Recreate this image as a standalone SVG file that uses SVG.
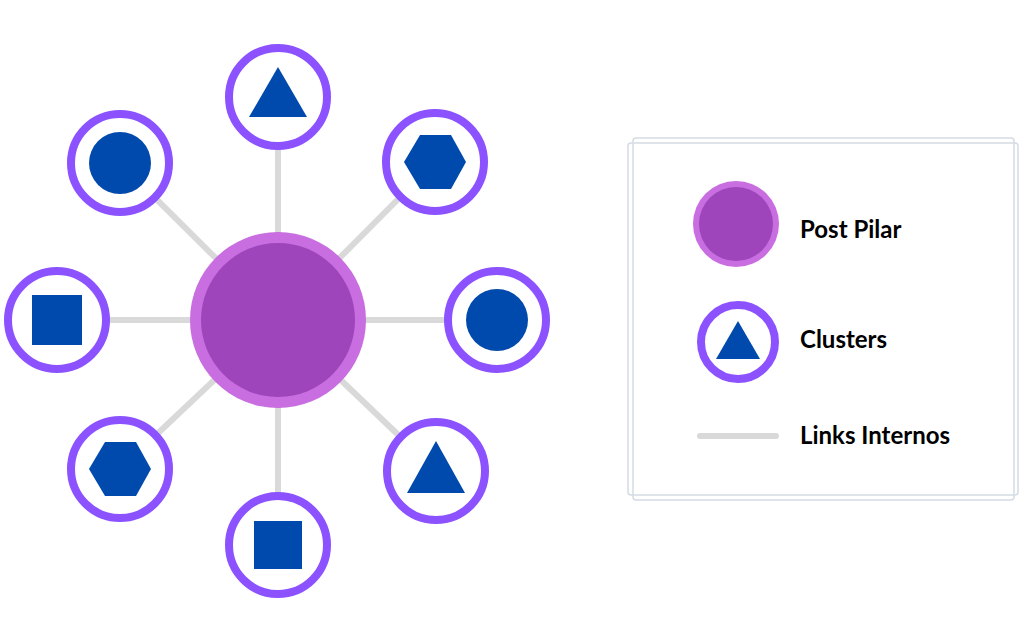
<svg xmlns="http://www.w3.org/2000/svg" width="1024" height="640" viewBox="0 0 1024 640">
<style>
.link{stroke:#d9d9d9;stroke-width:6;stroke-linecap:round}
.ring{fill:#fff;stroke:#8c52ff;stroke-width:8}
.shape{fill:#004aad}
.pil-o{fill:#c86ee0}
.pil-i{fill:#9f45bb}
.lbl{font-family:Lato,"Open Sans",sans-serif;font-weight:bold;font-size:24px;fill:#000}
.box{fill:none;stroke:#d5dbe3;stroke-width:1.5}
</style>
<rect width="1024" height="640" fill="#fff"/>
<g id="connectors">
<line class="link" x1="278" y1="320" x2="278" y2="97"/>
<line class="link" x1="278" y1="320" x2="120" y2="163"/>
<line class="link" x1="278" y1="320" x2="435" y2="162"/>
<line class="link" x1="278" y1="320" x2="57" y2="320"/>
<line class="link" x1="278" y1="320" x2="497" y2="320"/>
<line class="link" x1="278" y1="320" x2="120" y2="469"/>
<line class="link" x1="278" y1="320" x2="436" y2="471"/>
<line class="link" x1="278" y1="320" x2="278" y2="545"/>
</g>
<g id="pilar"><circle class="pil-o" cx="278" cy="320" r="88"/><circle class="pil-i" cx="278" cy="320" r="77"/></g>
<g id="n-top"><circle class="ring" cx="278" cy="97" r="49"/><polygon class="shape" points="278,67 307,117 249,117"/></g>
<g id="n-tl"><circle class="ring" cx="120" cy="163" r="49"/><circle class="shape" cx="120" cy="163" r="31"/></g>
<g id="n-tr"><circle class="ring" cx="435" cy="162" r="49"/><polygon class="shape" points="404,162 420,135 451,135 466,162 451,189 420,189"/></g>
<g id="n-l"><circle class="ring" cx="57" cy="320" r="49"/><rect class="shape" x="32" y="295" width="50" height="50"/></g>
<g id="n-r"><circle class="ring" cx="497" cy="320" r="49"/><circle class="shape" cx="497" cy="320" r="31"/></g>
<g id="n-bl"><circle class="ring" cx="120" cy="469" r="49"/><polygon class="shape" points="89,469 105,442 136,442 151,469 136,496 105,496"/></g>
<g id="n-br"><circle class="ring" cx="436" cy="471" r="49"/><polygon class="shape" points="436,441 465,493 407,493"/></g>
<g id="n-b"><circle class="ring" cx="278" cy="545" r="49"/><rect class="shape" x="254" y="521" width="48" height="48"/></g>
<g id="legend">
<rect class="box" x="633" y="138" width="381" height="362" rx="3"/>
<rect class="box" x="628" y="143" width="390" height="352" rx="3"/>
<circle class="pil-o" cx="736" cy="224" r="43"/><circle class="pil-i" cx="736" cy="224" r="37"/>
<text class="lbl" x="800" y="238">Post Pilar</text>
<circle class="ring" cx="738" cy="342" r="37"/><polygon class="shape" points="738,321 760,359 716,359"/>
<text class="lbl" x="800" y="348">Clusters</text>
<line class="link" x1="700" y1="436" x2="776" y2="436"/>
<text class="lbl" x="800" y="444">Links Internos</text>
</g>
</svg>
